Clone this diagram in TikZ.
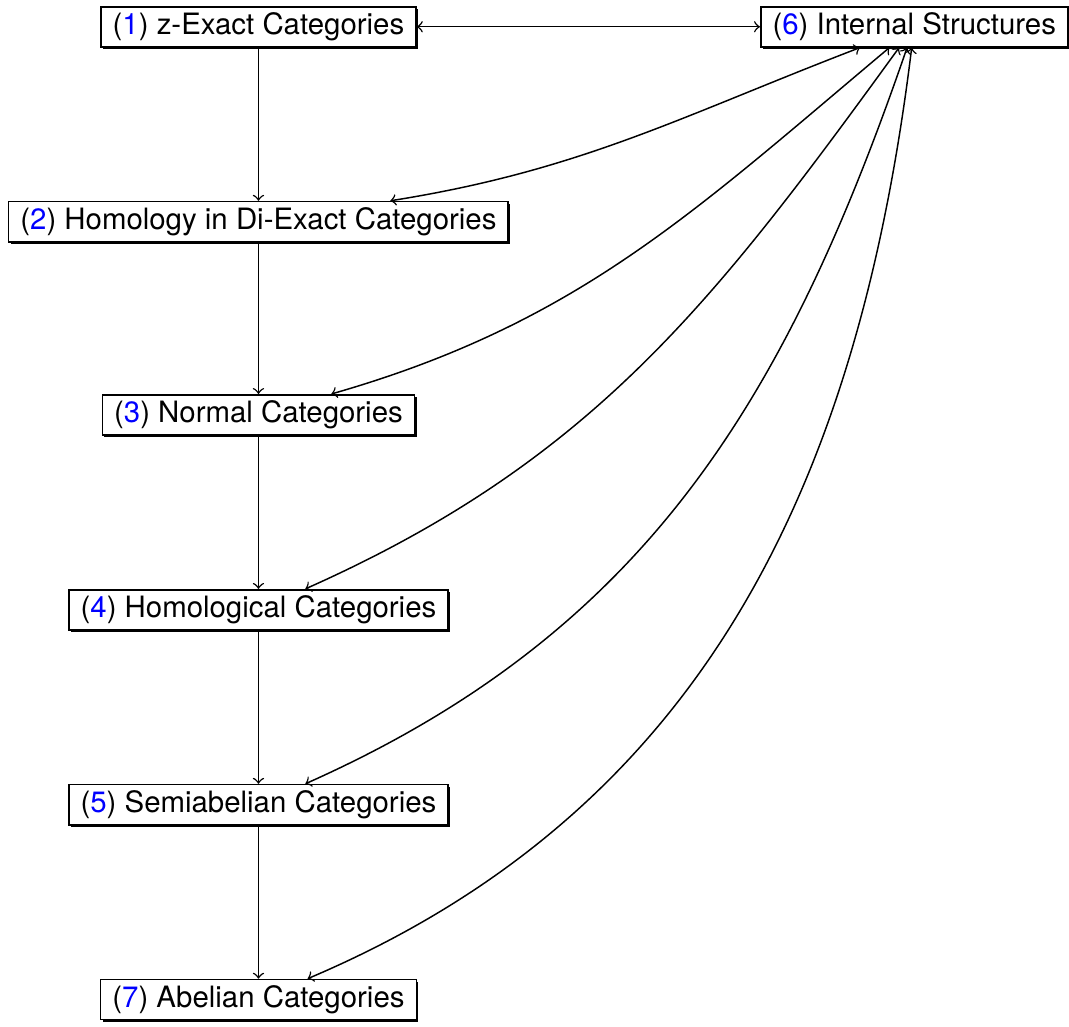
\documentclass[tikz,border=0pt]{standalone}
\usepackage{fontspec}
\setmainfont{TeX Gyre Heros}
\usepackage{tikz}
\usetikzlibrary{shadows}
\tikzset{box/.style={draw, fill=white, line width=0.55pt, inner xsep=4pt, inner ysep=2pt,
      drop shadow={shadow xshift=0.7pt, shadow yshift=-0.7pt, fill=black, opacity=1}}}
\newcommand{\secnum}[1]{(\textcolor{blue}{#1})}

\begin{document}
\begin{tikzpicture}[>=to, line width=0.5pt]
    \useasboundingbox (0,0) rectangle (12.78,-12.27);
    \node[box] (zexact) at (3.09,-0.32) {\secnum{1} z-Exact Categories};
    \node[box] (internal) at (10.93,-0.32) {\secnum{6} Internal Structures};
    \node[box] (diexact) at (3.09,-2.65) {\secnum{2} Homology in Di-Exact Categories};
    \node[box] (normal) at (3.09,-4.96) {\secnum{3} Normal Categories};
    \node[box] (homological) at (3.09,-7.29) {\secnum{4} Homological Categories};
    \node[box] (semiabelian) at (3.09,-9.62) {\secnum{5} Semiabelian Categories};
    \node[box] (abelian) at (3.09,-11.95) {\secnum{7} Abelian Categories};

    \draw[<->] (zexact) -- (internal);
    \draw[->] (zexact) -- (diexact);
    \draw[->] (diexact) -- (normal);
    \draw[->] (normal) -- (homological);
    \draw[->] (homological) -- (semiabelian);
    \draw[->] (semiabelian) -- (abelian);

    \draw[<->] (internal) to[out=201,in=9] (diexact);
    \draw[<->] (internal) to[out=220,in=16] (normal);
    \draw[<->] (internal) to[out=234,in=24] (homological);
    \draw[<->] (internal) to[out=251,in=24] (semiabelian);
    \draw[<->] (internal) to[out=263,in=23] (abelian);
  \end{tikzpicture}
\end{document}
